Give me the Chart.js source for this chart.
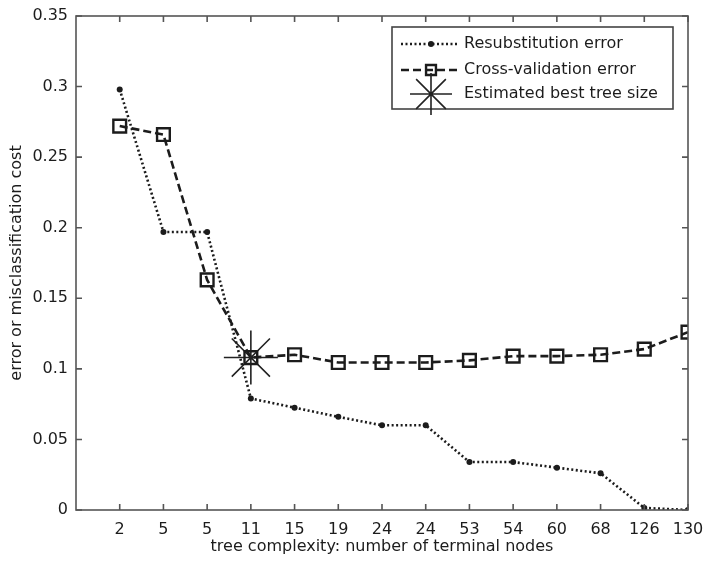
<!DOCTYPE html>
<html>
<head>
<meta charset="utf-8">
<script src="https://cdn.jsdelivr.net/npm/chart.js@4/dist/chart.umd.min.js"></script>
<style>
  html, body { margin: 0; padding: 0; background: #fff; }
  #wrap { width: 706px; height: 561px; }
</style>
</head>
<body>
<div id="wrap"><canvas id="treeChart" width="706" height="561"></canvas></div>
<script>
// tree sizes along the pruning sequence (one tick per pruning level)
const sizeLabels = ['2', '5', '5', '11', '15', '19', '24', '24', '53', '54', '60', '68', '126', '130'];
const resubError = [0.298, 0.197, 0.197, 0.079, 0.0725, 0.066, 0.060, 0.060, 0.034, 0.034, 0.030, 0.026, 0.0015, 0];
const cvError = [0.272, 0.266, 0.163, 0.108, 0.110, 0.1045, 0.1045, 0.1045, 0.106, 0.109, 0.109, 0.110, 0.114, 0.126];
const bestLevel = 4;      // position of the "11" tick
const bestCost = 0.108;
const yTicks = [0, 0.05, 0.1, 0.15, 0.2, 0.25, 0.3, 0.35];

const ink = '#1c1c1c';
const fontFamily = '"DejaVu Sans", Arial, sans-serif';
const fontSize = 16;

const toPoints = arr => arr.map((v, i) => ({ x: i + 1, y: v }));

// matlab style box: frame plus inward tick marks on all four sides
const boxAxes = {
    id: 'boxAxes',
    afterDatasetsDraw(chart) {
        const { ctx, chartArea: a, scales } = chart;
        ctx.save();
        ctx.strokeStyle = '#555';
        ctx.lineWidth = 1.6;
        ctx.strokeRect(a.left, a.top, a.right - a.left, a.bottom - a.top);
        ctx.beginPath();
        sizeLabels.forEach((_, i) => {
            const px = scales.x.getPixelForValue(i + 1);
            ctx.moveTo(px, a.bottom); ctx.lineTo(px, a.bottom - 6);
            ctx.moveTo(px, a.top); ctx.lineTo(px, a.top + 6);
        });
        yTicks.forEach(v => {
            const py = scales.y.getPixelForValue(v);
            ctx.moveTo(a.left, py); ctx.lineTo(a.left + 6, py);
            ctx.moveTo(a.right, py); ctx.lineTo(a.right - 6, py);
        });
        ctx.stroke();
        ctx.restore();
    }
};

// legend box with line samples and markers
const lineLegend = {
    id: 'lineLegend',
    afterDraw(chart) {
        const ctx = chart.ctx;
        const ds = chart.data.datasets;
        const box = { x: 392, y: 27, w: 281, h: 82 };
        ctx.save();
        ctx.fillStyle = '#fff';
        ctx.fillRect(box.x, box.y, box.w, box.h);
        ctx.strokeStyle = '#444';
        ctx.lineWidth = 1.6;
        ctx.strokeRect(box.x, box.y, box.w, box.h);

        const rows = [44, 70, 94];
        const x0 = 401, x1 = 457, xm = 431;
        ctx.font = fontSize + 'px ' + fontFamily;
        ctx.textBaseline = 'middle';
        ds.forEach((d, i) => {
            const y = rows[i];
            ctx.strokeStyle = d.borderColor;
            if (d.showLine !== false) {
                ctx.lineWidth = d.borderWidth;
                ctx.setLineDash(d.borderDash || []);
                ctx.beginPath();
                ctx.moveTo(x0, y); ctx.lineTo(x1, y);
                ctx.stroke();
                ctx.setLineDash([]);
            }
            const r = i === 2 ? 21 : (i === 1 ? 7 : d.pointRadius);
            ctx.lineWidth = d.pointBorderWidth;
            ctx.fillStyle = d.pointBackgroundColor;
            Chart.helpers.drawPoint(ctx, {
                pointStyle: d.pointStyle,
                radius: r,
                borderWidth: d.pointBorderWidth,
                rotation: 0
            }, xm, y);
            ctx.fillStyle = ink;
            ctx.fillText(d.label, 464, y);
        });
        ctx.restore();
    }
};

new Chart(document.getElementById('treeChart'), {
    type: 'line',
    data: {
        datasets: [{
            label: 'Resubstitution error',
            data: toPoints(resubError),
            borderColor: ink,
            borderWidth: 2.6,
            borderDash: [2, 2.5],
            pointStyle: 'circle',
            pointRadius: 3,
            pointBorderWidth: 0,
            pointBackgroundColor: ink,
            tension: 0
        }, {
            label: 'Cross-validation error',
            data: toPoints(cvError),
            borderColor: ink,
            borderWidth: 2.6,
            borderDash: [8, 4],
            pointStyle: 'rect',
            pointRadius: 9,
            pointBorderWidth: 2.4,
            pointBackgroundColor: 'rgba(255,255,255,0)',
            tension: 0
        }, {
            label: 'Estimated best tree size',
            data: [{ x: bestLevel, y: bestCost }],
            showLine: false,
            borderColor: '#222',
            pointStyle: 'star',
            pointRadius: 27,
            pointBorderWidth: 1.6,
            pointBackgroundColor: 'rgba(0,0,0,0)'
        }]
    },
    options: {
        responsive: false,
        animation: false,
        events: [],
        layout: { autoPadding: false, padding: { top: 16, right: 18, left: 0, bottom: 0 } },
        plugins: { legend: { display: false }, tooltip: { enabled: false } },
        scales: {
            x: {
                type: 'linear',
                min: 0,
                max: sizeLabels.length,
                afterFit: s => { s.height = 51; s.paddingLeft = 0; s.paddingRight = 0; },
                afterBuildTicks: s => { s.ticks = sizeLabels.map((_, i) => ({ value: i + 1 })); },
                grid: { display: false, drawTicks: false },
                border: { display: false },
                ticks: {
                    autoSkip: false,
                    maxRotation: 0,
                    padding: 10,
                    color: ink,
                    font: { family: fontFamily, size: fontSize },
                    callback: v => sizeLabels[v - 1]
                },
                title: {
                    display: true,
                    text: 'tree complexity: number of terminal nodes',
                    color: ink,
                    font: { family: fontFamily, size: fontSize },
                    padding: { top: 0, bottom: 5 }
                }
            },
            y: {
                min: 0,
                max: 0.35,
                afterFit: s => { s.width = 76; s.paddingTop = 0; s.paddingBottom = 0; },
                afterBuildTicks: s => { s.ticks = yTicks.map(v => ({ value: v })); },
                grid: { display: false, drawTicks: false },
                border: { display: false },
                ticks: {
                    padding: 8,
                    color: ink,
                    font: { family: fontFamily, size: fontSize },
                    callback: v => String(+v.toFixed(2))
                },
                title: {
                    display: true,
                    text: 'error or misclassification cost',
                    color: ink,
                    font: { family: fontFamily, size: fontSize },
                    padding: { top: 7, bottom: 0 }
                }
            }
        }
    },
    plugins: [boxAxes, lineLegend]
});
</script>
</body>
</html>
